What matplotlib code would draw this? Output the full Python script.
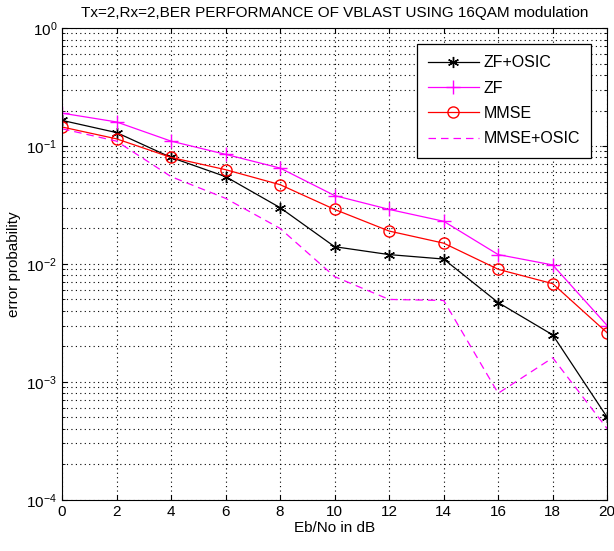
import matplotlib
matplotlib.use("Agg")
import matplotlib.pyplot as plt
import numpy as np

snr_db = [0, 2, 4, 6, 8, 10, 12, 14, 16, 18, 20]
ber_zf_osic = [0.165, 0.13, 0.08, 0.055, 0.030, 0.014, 0.012, 0.011, 0.0047, 0.0025, 0.0005]
ber_zf = [0.19, 0.16, 0.11, 0.085, 0.065, 0.038, 0.029, 0.023, 0.012, 0.0098, 0.003]
ber_mmse = [0.145, 0.115, 0.08, 0.063, 0.047, 0.029, 0.019, 0.015, 0.009, 0.0068, 0.0026]
ber_mmse_osic = [0.14, 0.11, 0.055, 0.036, 0.020, 0.0078, 0.005, 0.0049, 0.0008, 0.0016, 0.0004]

plt.rcParams['font.family'] = ['Liberation Sans', 'DejaVu Sans']

fig = plt.figure(figsize=(6.14, 5.51), dpi=100)
ax = fig.add_axes([0.101, 0.093, 0.888, 0.856])

# MATLAB-like asterisk marker
ax.semilogy(snr_db, ber_zf_osic, 'k-', marker=(6, 2, 0), lw=0.9, ms=8, mew=1.0, label='ZF+OSIC')
ax.semilogy(snr_db, ber_zf, '-+', color='#ff00ff', lw=0.9, ms=10, mew=1.0, label='ZF')
ax.semilogy(snr_db, ber_mmse, 'r-o', lw=0.9, ms=8, mew=1.0, mfc='none', label='MMSE')
ax.semilogy(snr_db, ber_mmse_osic, color='#ff00ff', ls=(0, (6, 4)), lw=0.9, label='MMSE+OSIC')

ax.set_xlim(0, 20)
ax.set_ylim(1e-4, 1)
ax.set_xticks(range(0, 21, 2))
ax.grid(True, which='major', ls=(0, (1, 3)), color='k', lw=0.8)
ax.grid(True, which='minor', axis='y', ls=(0, (1, 3)), color='k', lw=0.8)
ax.tick_params(which='both', direction='in', top=True, right=True, labelsize=11)
ax.set_xlabel('Eb/No in dB', fontsize=11, labelpad=2)
ax.set_ylabel('error probability', fontsize=11)
ax.set_title('Tx=2,Rx=2,BER PERFORMANCE OF VBLAST USING 16QAM modulation', fontsize=11, pad=8)

leg = ax.legend(loc='upper right', fontsize=11.5, fancybox=False, edgecolor='k',
                framealpha=1, handlelength=3.2, labelspacing=0.65,
                borderaxespad=1.0, borderpad=0.7, handletextpad=0.3)
leg.get_frame().set_linewidth(0.9)

fig.savefig('out.png', dpi=100)
